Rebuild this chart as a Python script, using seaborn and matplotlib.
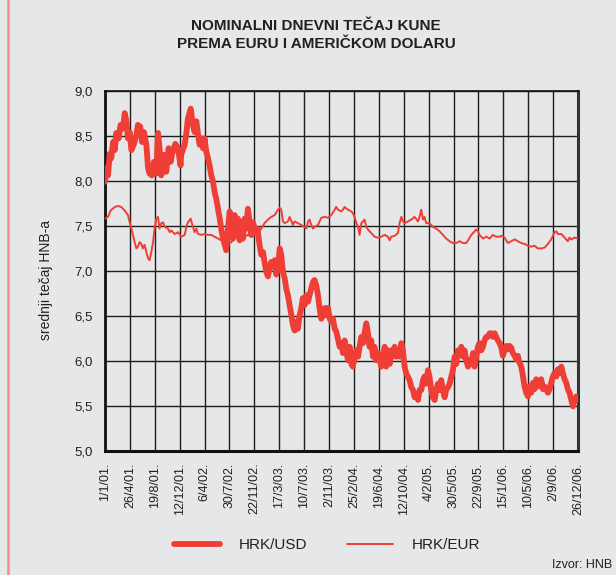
import numpy as np
import pandas as pd
import matplotlib
matplotlib.use("Agg")
import matplotlib.pyplot as plt
import seaborn as sns
from matplotlib.lines import Line2D

# ---------------- data ----------------
start_date = "2001-01-01"

usd_day = [0, 6, 14, 22, 29, 37, 45, 52, 63, 72, 83, 91, 99, 106, 114, 122, 134, 145, 152, 163,
           171, 180, 191, 199, 206, 217, 226, 237, 245, 252, 260, 268, 276, 283, 294, 303, 314, 325, 337, 349,
           352, 368, 376, 383, 396, 406, 414, 422, 430, 437, 445, 453, 460, 468, 476, 483, 491, 499, 506, 514,
           522, 530, 537, 545, 553, 560, 568, 576, 583, 591, 599, 607, 614, 622, 630, 637, 645, 653, 660, 668,
           676, 684, 694, 704,
           714, 722, 730, 737, 745, 753, 760, 768, 776, 784, 791, 799, 807, 814, 822, 830, 837, 845, 853, 861,
           868, 876, 884, 891, 899, 907, 914, 922, 930, 938, 945, 953, 961, 968, 976, 984, 991, 999, 1007, 1015,
           1022, 1030, 1038, 1045, 1053, 1061, 1068, 1076,
           1084, 1092, 1099, 1107, 1115, 1122, 1130, 1138, 1145, 1153, 1161, 1169, 1176, 1184, 1192, 1199, 1207,
           1215, 1222, 1230, 1238, 1245, 1253, 1261, 1269, 1276, 1284, 1292, 1299, 1307, 1315, 1322, 1330, 1338,
           1346, 1353, 1361, 1369, 1376, 1384, 1392, 1399, 1407, 1415, 1423, 1430, 1438, 1446, 1453,
           1461, 1469, 1476, 1484, 1492, 1499, 1507, 1515, 1523, 1530, 1538, 1546, 1553, 1561, 1569, 1576, 1584,
           1592, 1600, 1607, 1615, 1623, 1630, 1638, 1646, 1653, 1661, 1669, 1677, 1684, 1692, 1700, 1707, 1715,
           1723, 1730, 1738, 1746, 1753, 1761, 1769, 1777, 1784, 1792, 1800, 1807, 1815, 1823, 1830,
           1838, 1846, 1854, 1861, 1869, 1877, 1884, 1892, 1900, 1907, 1915, 1923, 1931, 1938, 1946, 1954, 1961,
           1969, 1977, 1984, 1992, 2000, 2008, 2015, 2023, 2031, 2038, 2046, 2054, 2061, 2069, 2077, 2085, 2092,
           2100, 2108, 2115, 2123, 2131, 2138, 2146, 2154, 2162, 2169, 2177, 2185]
usd_rate = [7.99, 8.14, 8.06, 8.30, 8.25, 8.43, 8.34, 8.53, 8.47, 8.62, 8.58, 8.75, 8.66, 8.47, 8.54, 8.34, 8.41, 8.51, 8.62, 8.60,
            8.43, 8.54, 8.40, 8.14, 8.08, 8.06, 8.21, 8.08, 8.53, 8.36, 8.06, 8.17, 8.29, 8.10, 8.36, 8.21, 8.34, 8.41, 8.36, 8.17,
            8.29, 8.40, 8.53, 8.69, 8.80, 8.62, 8.54, 8.66, 8.51, 8.40, 8.47, 8.36, 8.47, 8.32, 8.25, 8.17, 8.06, 7.99, 7.88, 7.80,
            7.69, 7.58, 7.47, 7.36, 7.29, 7.23, 7.47, 7.66, 7.51, 7.36, 7.62, 7.40, 7.58, 7.34, 7.54, 7.36, 7.58, 7.47, 7.69, 7.54,
            7.40, 7.54, 7.43, 7.47,
            7.29, 7.18, 7.21, 7.10, 6.99, 6.94, 7.03, 7.10, 7.05, 7.12, 6.96, 7.03, 7.25, 7.18, 6.99, 6.92, 6.81, 6.73, 6.62, 6.51,
            6.40, 6.34, 6.44, 6.36, 6.51, 6.59, 6.70, 6.62, 6.73, 6.66, 6.73, 6.81, 6.88, 6.90, 6.84, 6.73, 6.59, 6.47, 6.51, 6.59,
            6.51, 6.59, 6.47, 6.44, 6.47, 6.36, 6.33, 6.25,
            6.16, 6.20, 6.09, 6.23, 6.12, 6.01, 6.16, 5.97, 5.94, 6.05, 6.12, 6.05, 6.16, 6.27, 6.20, 6.31, 6.42,
            6.31, 6.16, 6.23, 6.05, 6.16, 6.01, 6.09, 6.01, 5.94, 6.05, 6.16, 5.94, 6.12, 5.97, 6.12, 6.05, 6.16,
            6.05, 6.12, 6.05, 6.20, 6.12, 5.94, 5.86, 5.83, 5.79, 5.71, 5.68, 5.60, 5.64, 5.57, 5.68,
            5.68, 5.79, 5.83, 5.75, 5.90, 5.83, 5.68, 5.60, 5.57, 5.68, 5.75, 5.68, 5.79, 5.68, 5.60, 5.68, 5.71,
            5.75, 5.83, 5.90, 6.05, 5.97, 6.12, 6.09, 6.16, 6.05, 6.12, 6.01, 5.94, 6.01, 5.97, 6.09, 5.94, 6.05,
            6.16, 6.20, 6.12, 6.16, 6.23, 6.27, 6.27, 6.31, 6.31, 6.27, 6.31, 6.27, 6.23, 6.20, 6.16,
            6.06, 6.13, 6.17, 6.13, 6.17, 6.15, 6.09, 6.06, 6.02, 6.06, 5.98, 5.94, 5.83, 5.72, 5.65, 5.61, 5.72,
            5.65, 5.76, 5.69, 5.80, 5.72, 5.76, 5.80, 5.69, 5.72, 5.69, 5.65, 5.69, 5.76, 5.83, 5.87, 5.83, 5.91,
            5.87, 5.94, 5.87, 5.80, 5.76, 5.69, 5.65, 5.57, 5.50, 5.57, 5.61, 5.57]

eur_day = [0, 14, 26, 45, 60, 75, 91, 106, 114, 122, 129, 137, 145, 152, 160, 168, 175, 183, 191, 199,
           206, 214, 222, 229, 237, 245, 252, 260, 268, 276, 291, 299, 306, 322, 337,
           352, 368, 376, 383, 396, 406, 414, 422, 430, 445, 460, 476, 491, 506, 522, 537, 553, 568, 583, 599,
           614, 630, 645, 660, 676, 691,
           707, 722, 737, 753, 768, 784, 799, 807, 814, 822, 830, 845, 853, 861, 868, 876, 891, 907, 922, 930,
           938, 945, 953, 961, 968, 984, 999, 1015, 1030, 1045, 1061, 1068, 1076, 1092,
           1099, 1107, 1122, 1138, 1145, 1153, 1161, 1169, 1176, 1184, 1192, 1199, 1207, 1215, 1222, 1230, 1238,
           1245, 1261, 1276, 1292, 1307, 1315, 1322, 1338, 1353, 1361, 1369, 1376, 1384, 1399, 1415, 1430, 1446,
           1453, 1461, 1469, 1476, 1484, 1499, 1515, 1530, 1546, 1561, 1576, 1592, 1607, 1623, 1638, 1653, 1669,
           1677, 1692, 1707, 1715, 1723, 1730, 1746, 1761, 1777, 1792, 1807, 1823,
           1831, 1846, 1861, 1877, 1892, 1907, 1923, 1938, 1954, 1969, 1984, 2000, 2015, 2031, 2046, 2061, 2077,
           2085, 2092, 2108, 2123, 2131, 2138, 2146, 2154, 2169, 2185]
eur_rate = [7.58, 7.60, 7.67, 7.71, 7.72, 7.71, 7.67, 7.62, 7.54, 7.47, 7.40, 7.32, 7.25, 7.27, 7.32, 7.30, 7.25, 7.29, 7.21, 7.14,
            7.12, 7.21, 7.32, 7.47, 7.58, 7.60, 7.47, 7.53, 7.54, 7.49, 7.47, 7.43, 7.45, 7.41, 7.43,
            7.38, 7.40, 7.49, 7.54, 7.58, 7.49, 7.43, 7.47, 7.41, 7.40, 7.41, 7.40, 7.40, 7.38, 7.36, 7.34, 7.32, 7.30, 7.32, 7.36,
            7.38, 7.36, 7.38, 7.40, 7.38, 7.40,
            7.42, 7.47, 7.53, 7.57, 7.60, 7.62, 7.68, 7.70, 7.68, 7.55, 7.53, 7.55, 7.60, 7.55, 7.51, 7.55, 7.53, 7.51, 7.49, 7.47,
            7.55, 7.57, 7.51, 7.47, 7.49, 7.51, 7.59, 7.60, 7.59, 7.62, 7.68, 7.71, 7.68, 7.66,
            7.68, 7.71, 7.68, 7.66, 7.64, 7.60, 7.53, 7.49, 7.40, 7.53, 7.55, 7.57, 7.49, 7.46, 7.44, 7.42, 7.40,
            7.38, 7.37, 7.38, 7.40, 7.38, 7.34, 7.38, 7.39, 7.42, 7.53, 7.60, 7.55, 7.53, 7.55, 7.57, 7.60, 7.55,
            7.60, 7.68, 7.57, 7.60, 7.53, 7.53, 7.49, 7.47, 7.44, 7.40, 7.36, 7.33, 7.31, 7.31, 7.33, 7.31, 7.31,
            7.34, 7.40, 7.44, 7.46, 7.44, 7.40, 7.36, 7.38, 7.36, 7.40, 7.38, 7.38,
            7.39, 7.37, 7.31, 7.33, 7.35, 7.33, 7.31, 7.30, 7.28, 7.27, 7.28, 7.25, 7.25, 7.26, 7.30, 7.35, 7.43,
            7.44, 7.41, 7.41, 7.37, 7.35, 7.33, 7.37, 7.35, 7.37, 7.36]

x_tick_labels = ["1/1/01.", "26/4/01.", "19/8/01.", "12/12/01.", "6/4/02.", "30/7/02.", "22/11/02.",
                 "17/3/03.", "10/7/03.", "2/11/03.", "25/2/04.", "19/6/04.", "12/10/04.", "4/2/05.",
                 "30/5/05.", "22/9/05.", "15/1/06.", "10/5/06.", "2/9/06.", "26/12/06."]
y_ticks = [5.0, 5.5, 6.0, 6.5, 7.0, 7.5, 8.0, 8.5, 9.0]
series_names = ["HRK/USD", "HRK/EUR"]

title_text = "NOMINALNI DNEVNI TEČAJ KUNE\nPREMA EURU I AMERIČKOM DOLARU"
y_label_text = "srednji tečaj HNB-a"
source_text = "Izvor: HNB"

# ---------------- style ----------------
BG = "#e6e7e8"
RED = "#ef3e36"
INK = "#231f20"

sns.set_style("white")
plt.rcParams["font.family"] = ["Liberation Sans", "DejaVu Sans"]

t0 = pd.Timestamp(start_date)
df_usd = pd.DataFrame({"date": t0 + pd.to_timedelta(usd_day, unit="D"), "rate": usd_rate})
df_eur = pd.DataFrame({"date": t0 + pd.to_timedelta(eur_day, unit="D"), "rate": eur_rate})
tick_dates = [pd.to_datetime(s.rstrip("."), format="%d/%m/%y") for s in x_tick_labels]

fig = plt.figure(figsize=(6.16, 5.75), dpi=100, facecolor=BG)
ax = fig.add_axes([105 / 616, 1 - 451.4 / 575, (578 - 105) / 616, (451.4 - 90.6) / 575])
ax.set_facecolor(BG)

sns.lineplot(data=df_usd, x="date", y="rate", ax=ax, color=RED, linewidth=4.2,
             estimator=None, sort=False, label=series_names[0], zorder=4)
sns.lineplot(data=df_eur, x="date", y="rate", ax=ax, color=RED, linewidth=1.4,
             estimator=None, sort=False, label=series_names[1], zorder=3)

ax.set_xlim(tick_dates[0], tick_dates[-1])
ax.set_ylim(5.0, 9.0)
ax.set_xticks(tick_dates)
ax.set_xticklabels(x_tick_labels, rotation=90, va="top", ha="center", fontsize=9, color=INK)
ax.set_yticks(y_ticks)
ax.set_yticklabels([f"{v:.1f}".replace(".", ",") for v in y_ticks], fontsize=9.5, color=INK)
ax.set_xlabel("")
ax.set_ylabel("")

ax.grid(True, color="#1e1e1e", linewidth=1.0, zorder=1)
ax.set_axisbelow(True)
ax.tick_params(axis="both", direction="out", length=5, width=1.0, color="#1e1e1e", pad=3)
ax.tick_params(axis="y", pad=4)

for side, lw, col in [("left", 2.0, "#111111"), ("bottom", 2.2, "#111111"),
                      ("right", 2.2, "#333333"), ("top", 1.2, "#111111")]:
    ax.spines[side].set_visible(True)
    ax.spines[side].set_linewidth(lw)
    ax.spines[side].set_color(col)

handles, labels = ax.get_legend_handles_labels()
ax.get_legend().remove()
fig.legend(handles, labels, loc="center", bbox_to_anchor=(327 / 616, 1 - 545 / 575), ncol=2,
           frameon=False, fontsize=11, handlelength=3.05, columnspacing=2.6, handletextpad=1.2,
           labelcolor=INK)

fig.text(316 / 616, 1 - 35 / 575, title_text, ha="center", va="center", fontsize=11,
         fontweight="bold", color=INK, linespacing=1.3)
fig.text(46 / 616, 1 - 280 / 575, y_label_text, rotation=90, ha="center", va="center",
         fontsize=10, color=INK)
fig.text(612 / 616, 1 - 565 / 575, source_text, ha="right", va="center", fontsize=9, color=INK)

fig.add_artist(Line2D([8 / 616, 8 / 616], [0, 1], transform=fig.transFigure,
                      color="#f08f8f", linewidth=1.8))

fig.savefig("out.png", dpi=100, facecolor=BG)
